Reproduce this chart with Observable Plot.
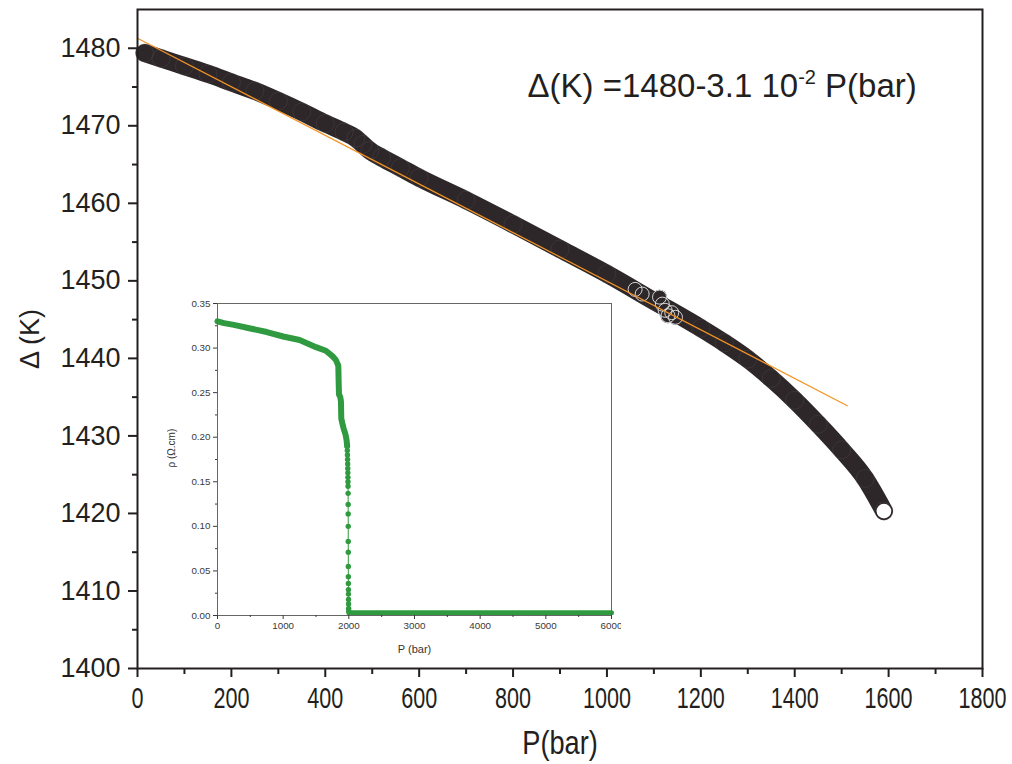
<!DOCTYPE html>
<html>
<head>
<meta charset="utf-8">
<script src="https://cdn.jsdelivr.net/npm/d3@7"></script>
<script src="https://cdn.jsdelivr.net/npm/@observablehq/plot@0.6"></script>
<style>
  html, body { margin: 0; padding: 0; background: #fff; }
  #wrap { position: relative; width: 1012px; height: 764px; overflow: hidden; background: #fff; }
  #inset { position: absolute; left: 167px; top: 295px; }
</style>
</head>
<body>
<div id="wrap"><div id="main"></div><div id="inset"></div></div>
<script>
// ---- main chart data: gap Δ (K) vs pressure P (bar) ----
const mainP = [15, 50, 100, 150, 200, 250, 300, 350, 400, 440, 465, 480, 495, 520, 560, 600, 700, 800, 900, 1000, 1100, 1200, 1250, 1300, 1350, 1400, 1450, 1500, 1550, 1590];
const mainD = [1479.4, 1478.7, 1477.7, 1476.7, 1475.6, 1474.5, 1473.2, 1471.8, 1470.3, 1469.2, 1468.4, 1467.6, 1466.8, 1465.9, 1464.6, 1463.3, 1460.4, 1457.3, 1454.1, 1450.9, 1447.4, 1443.9, 1442.0, 1439.9, 1437.4, 1434.6, 1431.5, 1428.2, 1424.5, 1420.3];
// scattered points near 1100 bar
const outP = [1060, 1075, 1112, 1118, 1124, 1130, 1138, 1146];
const outD = [1448.9, 1448.3, 1447.9, 1447.0, 1446.2, 1445.5, 1445.9, 1445.3];
// linear fit endpoints
const fitP = [0, 1512];
const fitD = [1481.3, 1433.9];
const yTicks = [1400, 1410, 1420, 1430, 1440, 1450, 1460, 1470, 1480];
const yMinor = [1405, 1415, 1425, 1435, 1445, 1455, 1465, 1475];
const xTicks = [0, 200, 400, 600, 800, 1000, 1200, 1400, 1600, 1800];
const xMinor = [100, 300, 500, 700, 900, 1100, 1300, 1500, 1700];

// ---- inset data: resistivity ρ (Ω.cm) vs P (bar) ----
const rhoP = [0, 100, 250, 500, 750, 1000, 1250, 1500, 1650, 1750, 1800, 1830, 1840, 1845, 1850, 1870, 1880, 1885, 1900, 1920, 1950, 1965, 1975];
const rhoV = [0.330, 0.328, 0.326, 0.322, 0.318, 0.313, 0.309, 0.301, 0.297, 0.291, 0.287, 0.282, 0.280, 0.262, 0.248, 0.245, 0.240, 0.221, 0.216, 0.210, 0.203, 0.197, 0.190];
const dropP = [1975, 1977, 1979, 1981, 1983, 1984, 1985, 1986, 1987, 1988, 1989, 1990, 1990, 1991, 1991, 1992, 1992, 1993, 1993, 1994, 1994, 1995, 1996, 1997, 1998];
const dropV = [0.190, 0.185, 0.180, 0.175, 0.170, 0.165, 0.160, 0.155, 0.150, 0.145, 0.137, 0.1245, 0.114, 0.100, 0.083, 0.071, 0.055, 0.0435, 0.036, 0.029, 0.024, 0.018, 0.013, 0.008, 0.005];
const flatP = [2000, 3000, 4000, 5000, 6000];
const flatV = [0.003, 0.003, 0.003, 0.003, 0.003];
const iyTicks = [0, 0.05, 0.10, 0.15, 0.20, 0.25, 0.30, 0.35];
const iyMinor = [0.025, 0.075, 0.125, 0.175, 0.225, 0.275, 0.325];
const ixTicks = [0, 1000, 2000, 3000, 4000, 5000, 6000];
const ixMinor = [500, 1500, 2500, 3500, 4500, 5500];

const dark = "#2d2729";
const orange = "#f39326";
const green = "#2f9a3f";

const band = mainP.map((p, i) => ({P: p, D: mainD[i]}));
const outl = outP.map((p, i) => ({P: p, D: outD[i]}));
const fit = fitP.map((p, i) => ({P: p, D: fitD[i]}));
const last = [band[band.length - 1]];

const main = Plot.plot({
  width: 1012, height: 764,
  marginLeft: 137, marginRight: 30, marginTop: 9, marginBottom: 96,
  x: {domain: [0, 1800]},
  y: {domain: [1400, 1485]},
  style: {fontFamily: "'Liberation Sans', Arial, sans-serif", color: "#231f20", background: "transparent"},
  marks: [
    Plot.line(band, {x: "P", y: "D", stroke: dark, strokeWidth: 18, strokeLinecap: "round", strokeLinejoin: "round", curve: "monotone-x"}),
    Plot.dot(band, {x: "P", y: "D", r: 9, stroke: "#5a5456", strokeOpacity: 0.3, strokeWidth: 1, fill: "none"}),
    Plot.dot(outl, {x: "P", y: "D", r: 7.5, fill: dark, stroke: "none"}),
    Plot.dot(outl, {x: "P", y: "D", r: 7, stroke: "#e6e6e6", strokeWidth: 0.9, fill: "none"}),
    Plot.dot(last, {x: "P", y: "D", r: 8, stroke: dark, strokeWidth: 1.2, fill: "#fff"}),
    Plot.line(fit, {x: "P", y: "D", stroke: orange, strokeWidth: 1.2}),
    Plot.frame({stroke: "#231f20", strokeWidth: 2}),
    Plot.axisY({ticks: yTicks, tickSize: 9, tickPadding: 8, fontSize: 27, strokeWidth: 2, label: null, tickFormat: d => String(d)}),
    Plot.axisY({ticks: yMinor, tickSize: 5, strokeWidth: 2, label: null, tickFormat: () => ""}),
    Plot.axisX({ticks: xTicks, tickSize: 9, tickPadding: 9, fontSize: 30, strokeWidth: 2, label: null, tickFormat: d => String(d)}),
    Plot.axisX({ticks: xMinor, tickSize: 6, strokeWidth: 2, label: null, tickFormat: () => ""}),
    Plot.text(["Δ (K)"], {frameAnchor: "left", dx: -107, dy: 30, rotate: -90, fontSize: 27}),
    Plot.text(["P(bar)"], {frameAnchor: "bottom", dy: 85, fontSize: 34}),
    Plot.text(["EQN"], {frameAnchor: "top-left", dx: 390, dy: 64, textAnchor: "start", fontSize: 33})
  ]
});
// equation with superscript
d3.select(main).selectAll("text").filter(function() { return this.textContent === "EQN"; })
  .each(function() {
    const t = d3.select(this);
    t.text("");
    t.append("tspan").text("Δ(K) =1480-3.1 10");
    t.append("tspan").attr("dy", -13).attr("font-size", 20).text("-2");
    t.append("tspan").attr("dy", 13).text(" P(bar)");
  });
// narrow (condensed) look of the x tick labels and x title
function squeeze(sel, k) {
  sel.each(function() {
    const tr = this.getAttribute("transform") || "";
    this.setAttribute("transform", tr + ` scale(${k},1)`);
  });
}
squeeze(d3.select(main).selectAll('g[aria-label="x-axis tick label"] text'), 0.72);
squeeze(d3.select(main).selectAll("text").filter(function() { return this.textContent === "P(bar)"; }), 0.8);
document.getElementById("main").append(main);

const rho = rhoP.map((p, i) => ({P: p, R: rhoV[i]}));
const drop = dropP.map((p, i) => ({P: p, R: dropV[i]}));
const flat = flatP.map((p, i) => ({P: p, R: flatV[i]}));
const dropLine = [rho[rho.length - 1], ...drop, flat[0]];

const inset = Plot.plot({
  width: 454, height: 369,
  marginLeft: 50, marginRight: 10, marginTop: 8, marginBottom: 49,
  x: {domain: [0, 6000]},
  y: {domain: [0, 0.35]},
  style: {fontFamily: "'Liberation Sans', Arial, sans-serif", color: "#3a3a3a", background: "transparent"},
  marks: [
    Plot.frame({fill: "#fff", stroke: "none"}),
    Plot.line(dropLine, {x: "P", y: "R", stroke: green, strokeWidth: 1}),
    Plot.line(rho, {x: "P", y: "R", stroke: green, strokeWidth: 6, strokeLinejoin: "round"}),
    Plot.dot(drop, {x: "P", y: "R", r: 2.7, fill: green}),
    Plot.line(flat, {x: "P", y: "R", stroke: green, strokeWidth: 5}),
    Plot.frame({stroke: "#666", strokeWidth: 1}),
    Plot.axisY({ticks: iyTicks, tickSize: 4, tickPadding: 3, fontSize: 9.8, label: null, tickFormat: d3.format(".2f")}),
    Plot.axisY({ticks: iyMinor, tickSize: 2, label: null, tickFormat: () => ""}),
    Plot.axisX({ticks: ixTicks, tickSize: 4, tickPadding: 3, fontSize: 9.8, label: null, tickFormat: d => String(d)}),
    Plot.axisX({ticks: ixMinor, tickSize: 2, label: null, tickFormat: () => ""}),
    Plot.text(["ρ (Ω.cm)"], {frameAnchor: "left", dx: -46, dy: 8, rotate: -90, fontSize: 10, fill: "#333"}),
    Plot.text(["P (bar)"], {frameAnchor: "bottom", dy: 37, fontSize: 11, fill: "#333"})
  ]
});
document.getElementById("inset").append(inset);
</script>
</body>
</html>
